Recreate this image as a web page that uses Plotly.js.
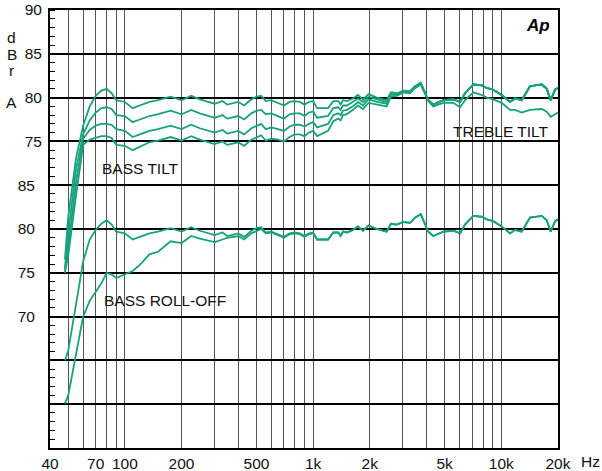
<!DOCTYPE html>
<html><head><meta charset="utf-8">
<script src="https://cdn.plot.ly/plotly-3.0.1.min.js"></script>
<style>html,body{margin:0;padding:0;background:#fff}#chart{width:602px;height:471px}</style>
</head><body><div id="chart"></div>
<script>
// Frequencies (Hz)
const freq = [48,50,55,60,65,70,75,80,85,90,100,110,120,135,150,175,200,225,250,300,330,350,400,430,470,500,530,560,600,650,700,750,800,850,900,950,1000,1050,1200,1280,1360,1400,1440,1510,1630,1730,1840,1970,2180,2460,2590,2780,3020,3270,3480,3730,4090,4350,4920,5560,6040,6410,7100,7870,8360,9060,10040,11120,11830,12830,14190,16400,17430,18290,19300,20000];
// Upper group (BASS TILT) - dBrA
const tiltFlat = [61.5,66.4,73.1,76.8,79.0,80.2,80.8,81.0,80.5,79.7,79.5,78.8,79.1,79.5,79.7,80.1,79.7,80.2,79.8,79.3,79.6,79.2,79.5,79.1,79.8,80.1,80.2,79.6,79.7,79.4,79.1,79.5,79.6,79.5,79.2,79.5,79.6,78.8,78.8,79.6,79.6,79.2,79.7,79.6,79.9,80.3,79.8,80.4,80.0,79.7,80.6,80.5,80.8,80.7,81.3,81.7,79.7,79.2,79.7,79.8,79.5,80.5,81.5,81.4,81.1,80.9,80.3,79.5,79.9,79.7,81.3,81.5,81.0,79.7,80.9,81.1];
const tilt2 = [60.5,64.5,71.8,75.8,77.4,78.3,78.8,78.9,78.7,78.0,77.9,77.2,77.5,77.9,78.1,78.5,78.1,78.6,78.2,77.7,78.0,77.6,77.9,77.5,78.2,78.5,78.6,78.1,78.2,77.9,77.6,78.1,78.2,78.2,77.9,78.3,78.4,77.7,77.9,78.8,78.9,78.6,79.1,79.1,79.5,79.9,79.5,80.1,79.8,79.5,80.4,80.4,80.7,80.6,81.2,81.6,79.7,79.2,79.7,79.8,79.5,80.5,81.5,81.4,81.1,80.9,80.3,79.5,79.9,79.7,81.3,81.5,81.0,79.7,80.9,81.1];
const tilt3 = [60.2,63.0,70.3,75.3,76.3,76.8,77.0,77.0,76.9,76.4,76.2,75.5,75.8,76.2,76.4,76.8,76.4,76.9,76.5,76.0,76.3,75.9,76.2,75.8,76.5,76.8,77.0,76.4,76.6,76.4,76.2,76.7,76.9,76.9,76.7,77.0,77.2,76.6,77.0,78.0,78.2,78.0,78.5,78.6,79.0,79.5,79.1,79.8,79.5,79.3,80.3,80.3,80.65,80.55,81.15,81.55,79.7,79.2,79.7,79.8,79.5,80.5,81.5,81.4,81.1,80.9,80.3,79.5,79.9,79.7,81.3,81.5,81.0,79.7,80.9,81.1];
const tilt4 = [60.0,62.0,68.8,74.6,75.2,75.4,75.6,75.6,75.4,74.6,74.5,74.0,74.4,74.9,75.1,75.5,75.1,75.6,75.2,74.7,75.0,74.6,74.9,74.5,75.2,75.5,75.7,75.1,75.3,75.2,75.0,75.5,75.8,75.8,75.6,76.0,76.2,75.6,76.2,77.3,77.6,77.4,78.0,78.1,78.6,79.1,78.7,79.4,79.2,79.0,80.1,80.2,80.6,80.5,81.1,81.5,79.7,79.2,79.7,79.8,79.5,80.5,81.5,81.4,81.1,80.9,80.3,79.5,79.9,79.7,81.3,81.5,81.0,79.7,80.9,81.1];
// TREBLE TILT
const trebleFreq = [3020,3270,3480,3730,4090,4350,4920,5560,6040,6410,7100,7870,8360,9060,10040,11120,11830,12830,14190,16400,17430,18290,19300,20000];
const trebleTilt = [80.8,80.7,81.3,81.7,79.6,79.0,79.4,79.4,78.9,79.7,80.6,80.3,80.0,79.8,79.4,78.6,78.6,78.3,78.6,78.7,78.4,77.8,78.1,78.3];
// Lower group (BASS ROLL-OFF) - dBrA
const rollFlat = [65.0,66.1,71.4,76.3,78.8,79.9,80.6,81.0,80.5,79.7,79.5,78.8,79.1,79.5,79.7,80.1,79.7,80.2,79.8,79.3,79.6,79.2,79.5,79.1,79.8,80.1,80.2,79.6,79.7,79.4,79.1,79.5,79.6,79.5,79.2,79.5,79.6,78.8,78.8,79.6,79.6,79.2,79.7,79.6,79.9,80.3,79.8,80.4,80.0,79.7,80.6,80.5,80.8,80.7,81.3,81.7,79.7,79.2,79.7,79.8,79.5,80.5,81.5,81.4,81.1,80.9,80.3,79.5,79.9,79.7,81.3,81.5,81.0,79.7,80.9,81.1];
const rollOff = [60.1,61.0,65.7,70.0,71.8,72.8,73.8,75.0,74.8,74.4,74.8,75.2,75.9,77.1,77.4,78.6,78.4,79.2,78.9,78.5,78.8,79.0,79.2,78.8,79.5,79.8,80.0,79.5,79.6,79.3,79.0,79.4,79.5,79.4,79.1,79.4,79.5,78.8,78.8,79.6,79.6,79.2,79.7,79.6,79.9,80.3,79.8,80.4,80.0,79.7,80.6,80.5,80.8,80.7,81.3,81.7,79.7,79.2,79.7,79.8,79.5,80.5,81.5,81.4,81.1,80.9,80.3,79.5,79.9,79.7,81.3,81.5,81.0,79.7,80.9,81.1];
// Tick labels
const xTickVals = [40,50,60,70,80,90,100,200,300,400,500,600,700,800,900,1000,2000,3000,4000,5000,6000,7000,8000,9000,10000,20000];
const xTickText = ['40','','','70','','','100','200','','','500','','','','','1k','2k','','','5k','','','','','10k','20k'];
const yTickVals = [90,85,80,75,70,65,60,55,50,45,40];
const yTickText = ['90','85','80','75','','','','','','',''];
const y2TickVals = [85,80,75,70];
const y2TickText = ['85','80','75','70'];

const col = '#17a27a';
const FONT = 'Liberation Sans, Arial, Helvetica, sans-serif';
function tr(x, y, ax) {
  return {x: x, y: y, yaxis: ax, type: 'scatter', mode: 'lines',
    line: {color: col, width: 1.8}, hoverinfo: 'skip', showlegend: false};
}
const data = [
  tr(freq, tiltFlat, 'y'), tr(freq, tilt2, 'y'), tr(freq, tilt3, 'y'), tr(freq, tilt4, 'y'),
  tr(trebleFreq, trebleTilt, 'y'),
  tr(freq, rollFlat, 'y2'), tr(freq, rollOff, 'y2')
];
const layout = {
  width: 602, height: 471,
  margin: {l: 50, r: 44, t: 10, b: 23},
  paper_bgcolor: '#fff', plot_bgcolor: '#fff',
  font: {family: FONT, size: 15.5, color: '#111'},
  xaxis: {
    type: 'log', range: [Math.log10(40), Math.log10(20000)],
    tickmode: 'array', tickvals: xTickVals, ticktext: xTickText,
    ticks: '', showgrid: true, gridcolor: '#555', gridwidth: 1,
    showline: true, mirror: true, linecolor: '#000', linewidth: 2,
    zeroline: false, tickfont: {size: 15.5, color: '#111'}
  },
  yaxis: {
    range: [40, 90], tickmode: 'array', tickvals: yTickVals, ticktext: yTickText,
    ticks: '', showgrid: true, gridcolor: '#000', gridwidth: 2,
    showline: true, mirror: true, linecolor: '#000', linewidth: 2,
    zeroline: false, ticklabelstandoff: 3,
    minor: {tickmode: 'linear', tick0: 40, dtick: 1, ticks: 'inside', ticklen: 5, tickcolor: '#000', tickwidth: 1, showgrid: false},
    tickfont: {size: 15.5, color: '#111'}
  },
  yaxis2: {
    range: [55, 105], overlaying: 'y', side: 'left', tickmode: 'array',
    tickvals: y2TickVals, ticktext: y2TickText, ticks: '', showgrid: false,
    showline: false, zeroline: false, ticklabelstandoff: 14,
    tickfont: {size: 15.5, color: '#111'}
  },
  annotations: [
    {text: 'd', xref: 'paper', yref: 'paper', x: -0.075, y: 1 - 27/438, showarrow: false, xanchor: 'center', yanchor: 'middle'},
    {text: 'B', xref: 'paper', yref: 'paper', x: -0.075, y: 1 - 44/438, showarrow: false, xanchor: 'center', yanchor: 'middle'},
    {text: 'r', xref: 'paper', yref: 'paper', x: -0.075, y: 1 - 60/438, showarrow: false, xanchor: 'center', yanchor: 'middle'},
    {text: 'A', xref: 'paper', yref: 'paper', x: -0.075, y: 1 - 93/438, showarrow: false, xanchor: 'center', yanchor: 'middle'},
    {text: 'BASS TILT', xref: 'paper', yref: 'paper', x: 50/508, y: 1 - 158/438, showarrow: false, xanchor: 'left', yanchor: 'middle'},
    {text: 'TREBLE TILT', xref: 'paper', yref: 'paper', x: 401/508, y: 1 - 121/438, showarrow: false, xanchor: 'left', yanchor: 'middle'},
    {text: 'BASS ROLL-OFF', xref: 'paper', yref: 'paper', x: 52/508, y: 1 - 290/438, showarrow: false, xanchor: 'left', yanchor: 'middle'},
    {text: 'Hz', xref: 'paper', yref: 'paper', x: 540/508, y: -13/438, showarrow: false, xanchor: 'center', yanchor: 'middle'},
    {text: '<b><i>Ap</i></b>', xref: 'paper', yref: 'paper', x: 502/508, y: 1 - 15/438, showarrow: false, xanchor: 'right', yanchor: 'middle', font: {size: 17, color: '#000'}}
  ]
};
Plotly.newPlot('chart', data, layout, {staticPlot: true, displayModeBar: false});
</script></body></html>
